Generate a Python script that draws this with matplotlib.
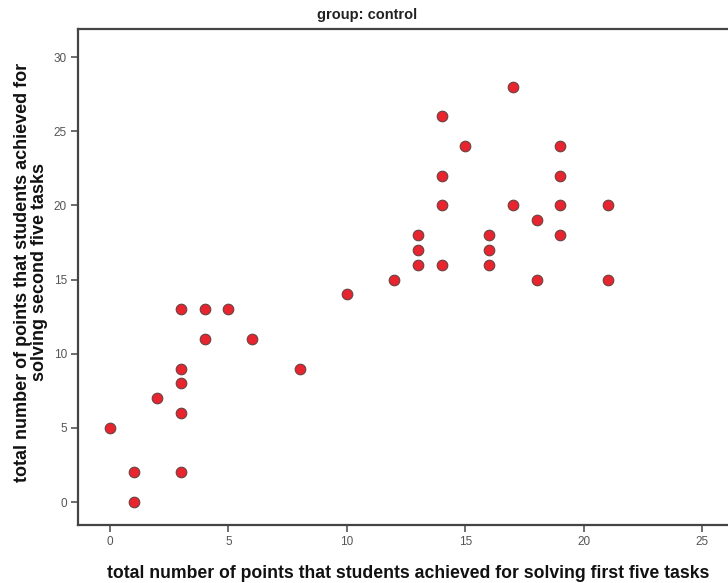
import matplotlib
matplotlib.use('Agg')
import matplotlib.pyplot as plt

# scores for the control group: first five tasks vs second five tasks
first_tasks = [0, 1, 1, 2, 3, 3, 3, 3, 3, 4, 4, 5, 6, 8, 10, 12,
               13, 13, 13, 14, 14, 14, 14, 15, 16, 16, 16, 17, 17,
               18, 18, 19, 19, 19, 19, 21, 21]
second_tasks = [5, 2, 0, 7, 13, 9, 8, 6, 2, 13, 11, 13, 11, 9, 14, 15,
                18, 17, 16, 26, 22, 20, 16, 24, 18, 17, 16, 28, 20,
                19, 15, 24, 22, 20, 18, 20, 15]
x_ticks = [0, 5, 10, 15, 20, 25]
y_ticks = [0, 5, 10, 15, 20, 25, 30]

plt.rcParams['font.family'] = ['Liberation Sans', 'DejaVu Sans']

fig = plt.figure(figsize=(7.28, 5.83), dpi=100)
ax = fig.add_axes([78/728, 1 - 525/583, 660/728, (525 - 29)/583])

ax.scatter(first_tasks, second_tasks, s=58, c='#e8252f',
           edgecolors='#6a4040', linewidths=0.8, zorder=3)

ax.set_xlim(-1.35, 26.5)
ax.set_ylim(-1.55, 31.9)
ax.set_xticks(x_ticks)
ax.set_yticks(y_ticks)
ax.tick_params(axis='both', direction='out', length=5, width=1.2,
               colors='#555555', labelsize=8.5, pad=3)
for side in ['left', 'bottom', 'top']:
    ax.spines[side].set_linewidth(1.6)
    ax.spines[side].set_color('#444444')
ax.spines['right'].set_visible(False)

ax.set_xlabel('total number of points that students achieved for solving first five tasks',
              fontsize=12.7, fontweight='bold', color='#111111', labelpad=12)
ax.set_ylabel('total number of points that students achieved for\nsolving second five tasks',
              fontsize=13, fontweight='bold', color='#111111',
              linespacing=1.0)
ax.yaxis.set_label_coords(-0.045, 0.51)
fig.text(367/728, 1 - 15/583, 'group: control', ha='center', va='center',
         fontsize=10.5, fontweight='bold', color='#222222')

fig.savefig('out.png', dpi=100)
